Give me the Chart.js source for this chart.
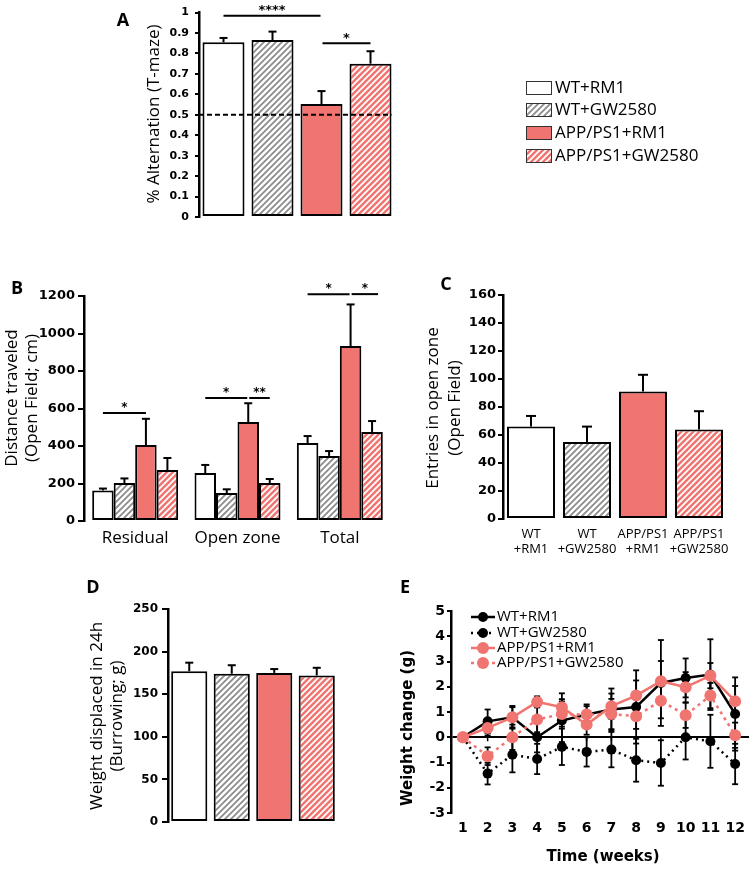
<!DOCTYPE html>
<html>
<head>
<meta charset="utf-8">
<script src="https://cdn.jsdelivr.net/npm/chart.js@4.4.1/dist/chart.umd.min.js"></script>
<style>
  body { margin: 0; background: #fff; width: 755px; height: 869px; overflow: hidden; position: relative; }
  .layer { position: absolute; left: 0; top: 0; width: 755px; height: 869px; }
</style>
</head>
<body>
<div class="layer"><canvas id="chartA"></canvas></div>
<div class="layer"><canvas id="chartB"></canvas></div>
<div class="layer"><canvas id="chartC"></canvas></div>
<div class="layer"><canvas id="chartD"></canvas></div>
<div class="layer"><canvas id="chartE"></canvas></div>
<script>
// ---- data ----
const groups = ['WT+RM1', 'WT+GW2580', 'APP/PS1+RM1', 'APP/PS1+GW2580'];

// A: T-maze alternation
const tmazeMean = [0.855, 0.866, 0.553, 0.75];
const tmazeSem  = [0.021, 0.041, 0.063, 0.061];
const tmazeChance = 0.5;

// B: distance travelled in the open field
const zones = ['Residual', 'Open zone', 'Total'];
const distWtRm1  = [163, 256, 416];
const distWtGw   = [203, 149, 347];
const distAppRm1 = [405, 528, 933];
const distAppGw  = [272, 203, 475];
const distWtRm1Sem  = [10, 43, 37];
const distWtGwSem   = [24, 20, 26];
const distAppRm1Sem = [140, 100, 222];
const distAppGwSem  = [64, 21, 58];

// C: entries in open zone
const entryLabels = [['WT', '+RM1'], ['WT', '+GW2580'], ['APP/PS1', '+RM1'], ['APP/PS1', '+GW2580']];
const entriesMean = [66, 55, 91, 64];
const entriesSem  = [7.6, 11, 12, 13];

// D: burrowing
const burrowMean = [177, 174, 175, 172];
const burrowSem  = [10, 10, 4.5, 9];

// E: weight change over 12 weeks
const weeks = [1, 2, 3, 4, 5, 6, 7, 8, 9, 10, 11, 12];
const wtRm1W  = [0, 0.63, 0.79, 0.0, 0.66, 0.9, 1.1, 1.2, 2.15, 2.35, 2.48, 0.92];
const wtGwW   = [0, -1.44, -0.69, -0.86, -0.38, -0.58, -0.49, -0.91, -1.02, 0.0, -0.16, -1.06];
const appRm1W = [0, 0.37, 0.79, 1.4, 1.19, 0.5, 1.23, 1.65, 2.22, 1.98, 2.44, 1.43];
const appGwW  = [0, -0.75, 0.0, 0.7, 0.92, 0.9, 0.92, 0.83, 1.45, 0.87, 1.65, 0.08];
const wtRm1WSem  = [0, 0.47, 0.45, 0.6, 0.85, 0.33, 0.83, 1.45, 1.7, 0.77, 1.4, 1.45];
const wtGwWSem   = [0, 0.43, 0.7, 0.6, 0.72, 0.58, 0.7, 0.85, 0.9, 0.88, 1.05, 0.8];
const appRm1WSem = [0, 0.3, 0.4, 0.22, 0.55, 0.4, 0.5, 0.6, 0.8, 0.6, 0.5, 0.6];
const appGwWSem  = [0, 0.35, 0.5, 0.5, 0.5, 0.4, 0.6, 0.5, 0.7, 0.5, 0.5, 0.5];

// ---- styles ----
const SALMON = '#f07470';
const TEXT_FONT = '"Open Sans", sans-serif';
const TICK_FONT = '"DejaVu Sans", sans-serif';

function hatch(bg, fg) {
  const s = 6, c = document.createElement('canvas');
  c.width = c.height = s;
  const g = c.getContext('2d');
  g.fillStyle = bg; g.fillRect(0, 0, s, s);
  g.strokeStyle = fg; g.lineWidth = 1.8;
  g.beginPath();
  g.moveTo(0, s); g.lineTo(s, 0);
  g.moveTo(-1, 1); g.lineTo(1, -1);
  g.moveTo(s - 1, s + 1); g.lineTo(s + 1, s - 1);
  g.stroke();
  return g.createPattern(c, 'repeat');
}
const fills = ['#ffffff', hatch('#ffffff', '#8c8c8c'), SALMON, hatch(SALMON, '#ffffff')];

function txt(ctx, s, x, y, font, o = {}) {
  ctx.save();
  ctx.font = font;
  ctx.fillStyle = o.color || '#000';
  ctx.textAlign = o.align || 'center';
  ctx.textBaseline = o.base || 'middle';
  ctx.translate(x, y);
  if (o.rot) ctx.rotate(o.rot);
  ctx.fillText(s, 0, 0);
  ctx.restore();
}
function line(ctx, x1, y1, x2, y2, w, dash) {
  ctx.save();
  ctx.strokeStyle = '#000'; ctx.lineWidth = w || 2;
  if (dash) ctx.setLineDash(dash);
  ctx.beginPath(); ctx.moveTo(x1, y1); ctx.lineTo(x2, y2); ctx.stroke();
  ctx.restore();
}

// page-level frame: chart area (L,T,R,B), y-axis box width, x-axis box height
function frame(L, T, R, B, yW, xH) {
  return { padding: { left: L - yW, top: T, right: 755 - R, bottom: 869 - B - xH } };
}
function yAxis(min, max, step, W, size, tickLen, pad, extra) {
  return Object.assign({
    min, max,
    ticks: { stepSize: step, color: '#000', padding: pad, font: { family: TICK_FONT, weight: 'bold', size },
             callback: v => String(Math.round(v * 100) / 100) },
    grid: { drawOnChartArea: false, tickLength: tickLen, color: '#000', tickColor: '#000', lineWidth: 2 },
    border: { color: '#000', width: 2.5 },
    afterFit: s => { s.width = W; }
  }, extra || {});
}
function xCat(H, ticks) {
  return {
    grid: { display: false, drawTicks: false },
    border: { display: false },
    ticks: Object.assign({ display: false, color: '#000', autoSkip: false, maxRotation: 0, minRotation: 0 }, ticks || {}),
    afterFit: s => { s.height = H; }
  };
}
const common = { responsive: true, maintainAspectRatio: false, animation: false,
                 plugins: { legend: { display: false }, tooltip: { enabled: false } } };

// error bars on top of bars (upper only)
function barErrors(chart, sems, cap) {
  const ctx = chart.ctx, y = chart.scales.y;
  sems.forEach((arr, di) => {
    chart.getDatasetMeta(di).data.forEach((el, i) => {
      const top = y.getPixelForValue(chart.data.datasets[di].data[i] + arr[i]);
      line(ctx, el.x, el.y, el.x, top, 2);
      line(ctx, el.x - cap, top, el.x + cap, top, 2);
    });
  });
}
function sigLine(ctx, x1, x2, yPix, label, size) {
  line(ctx, x1, yPix, x2, yPix, 2);
  txt(ctx, label, (x1 + x2) / 2, yPix - 5, 'bold ' + size + 'px ' + TICK_FONT);
}

// ---- A ----
new Chart(document.getElementById('chartA'), {
  type: 'bar',
  data: { labels: groups, datasets: [{ data: tmazeMean, backgroundColor: fills, borderColor: '#000',
          borderWidth: 2, borderSkipped: false, barPercentage: 0.857, categoryPercentage: 1 }] },
  options: Object.assign({}, common, {
    layout: frame(199, 10, 395, 217, 60, 0),
    scales: { x: xCat(0), y: yAxis(0, 1, 0.1, 60, 11, 4, 6) }
  }),
  plugins: [{
    id: 'annA',
    afterDatasetsDraw(chart) {
      const ctx = chart.ctx, y = chart.scales.y, a = chart.chartArea;
      const bars = chart.getDatasetMeta(0).data;
      line(ctx, a.left, y.getPixelForValue(tmazeChance), bars[3].x + 21, y.getPixelForValue(tmazeChance), 2, [5, 3]);
      barErrors(chart, [tmazeSem], 4);
      sigLine(ctx, bars[0].x, bars[2].x - 1, y.getPixelForValue(0.985), '****', 13);
      sigLine(ctx, bars[2].x + 1, bars[3].x, y.getPixelForValue(0.85), '*', 13);
      txt(ctx, 'A', 123, 21, 'bold 18px ' + TEXT_FONT);
      txt(ctx, '% Alternation (T-maze)', 154, 114, '17px ' + TEXT_FONT, { rot: -Math.PI / 2 });
      // legend
      const rows = [88, 110, 133, 156];
      groups.forEach((g, i) => {
        ctx.save();
        ctx.fillStyle = fills[i]; ctx.fillRect(526, rows[i] - 7, 26, 14);
        ctx.strokeStyle = '#333'; ctx.lineWidth = 1; ctx.strokeRect(526.5, rows[i] - 6.5, 25, 13);
        ctx.restore();
        txt(ctx, g, 555, rows[i], '17px ' + TEXT_FONT, { align: 'left' });
      });
    }
  }]
});

// ---- B ----
const distSeries = [distWtRm1, distWtGw, distAppRm1, distAppGw];
new Chart(document.getElementById('chartB'), {
  type: 'bar',
  data: { labels: zones, datasets: distSeries.map((d, i) => ({
    label: groups[i], data: d, backgroundColor: fills[i], borderColor: '#000', borderWidth: 2,
    borderSkipped: false, barPercentage: 1, categoryPercentage: 0.84 })) },
  options: Object.assign({}, common, {
    layout: frame(84, 296, 391, 521, 80, 40),
    scales: {
      x: xCat(40, { display: true, padding: 7, font: { family: TEXT_FONT, size: 17 } }),
      y: yAxis(0, 1200, 200, 80, 13, 6, 3)
    }
  }),
  plugins: [{
    id: 'annB',
    afterDatasetsDraw(chart) {
      const ctx = chart.ctx, y = chart.scales.y;
      barErrors(chart, [distWtRm1Sem, distWtGwSem, distAppRm1Sem, distAppGwSem], 4);
      const bx = (d, c) => chart.getDatasetMeta(d).data[c].x;
      sigLine(ctx, bx(0, 0), bx(2, 0), y.getPixelForValue(576), '*', 12);
      sigLine(ctx, bx(0, 1), bx(2, 1) - 1, y.getPixelForValue(656), '*', 12);
      sigLine(ctx, bx(2, 1) + 1, bx(3, 1), y.getPixelForValue(656), '**', 12);
      sigLine(ctx, bx(0, 2), bx(2, 2) - 1, y.getPixelForValue(1210), '*', 12);
      sigLine(ctx, bx(2, 2) + 1, bx(3, 2) + 6, y.getPixelForValue(1210), '*', 12);
      txt(ctx, 'B', 17, 289, 'bold 18px ' + TEXT_FONT);
      txt(ctx, 'Distance traveled', 12, 398, '17px ' + TEXT_FONT, { rot: -Math.PI / 2 });
      txt(ctx, '(Open Field; cm)', 32, 398, '17px ' + TEXT_FONT, { rot: -Math.PI / 2 });
    }
  }]
});

// ---- C ----
new Chart(document.getElementById('chartC'), {
  type: 'bar',
  data: { labels: entryLabels, datasets: [{ data: entriesMean, backgroundColor: fills, borderColor: '#000',
          borderWidth: 2, borderSkipped: false, barPercentage: 0.857, categoryPercentage: 1 }] },
  options: Object.assign({}, common, {
    layout: frame(503, 295, 727, 519, 60, 45),
    scales: {
      x: xCat(45, { display: true, padding: 8, font: { family: TEXT_FONT, size: 13, lineHeight: 1.15 } }),
      y: yAxis(0, 160, 20, 60, 13, 5, 2)
    }
  }),
  plugins: [{
    id: 'annC',
    afterDatasetsDraw(chart) {
      const ctx = chart.ctx;
      barErrors(chart, [entriesSem], 5);
      txt(ctx, 'C', 446, 285, 'bold 18px ' + TEXT_FONT);
      txt(ctx, 'Entries in open zone', 433, 408, '17px ' + TEXT_FONT, { rot: -Math.PI / 2 });
      txt(ctx, '(Open Field)', 455, 408, '17px ' + TEXT_FONT, { rot: -Math.PI / 2 });
    }
  }]
});

// ---- D ----
new Chart(document.getElementById('chartD'), {
  type: 'bar',
  data: { labels: groups, datasets: [{ data: burrowMean, backgroundColor: fills, borderColor: '#000',
          borderWidth: 2, borderSkipped: false, barPercentage: 0.85, categoryPercentage: 1 }] },
  options: Object.assign({}, common, {
    layout: frame(168, 609, 338, 822, 60, 0),
    scales: { x: xCat(0), y: yAxis(0, 250, 50, 60, 12, 6, 4) }
  }),
  plugins: [{
    id: 'annD',
    afterDatasetsDraw(chart) {
      const ctx = chart.ctx;
      barErrors(chart, [burrowSem], 4);
      txt(ctx, 'D', 93, 588, 'bold 18px ' + TEXT_FONT);
      txt(ctx, 'Weight displaced in 24h', 97, 716, '17px ' + TEXT_FONT, { rot: -Math.PI / 2 });
      txt(ctx, '(Burrowing; g)', 117, 716, '17px ' + TEXT_FONT, { rot: -Math.PI / 2 });
    }
  }]
});

// ---- E ----
const weightSeries = [
  { label: 'WT+RM1', data: wtRm1W, sem: wtRm1WSem, color: '#000', dash: [], r: 5, order: 2 },
  { label: 'WT+GW2580', data: wtGwW, sem: wtGwWSem, color: '#000', dash: [2, 4], r: 5, order: 3 },
  { label: 'APP/PS1+RM1', data: appRm1W, sem: appRm1WSem, color: SALMON, dash: [], r: 6, order: 0 },
  { label: 'APP/PS1+GW2580', data: appGwW, sem: appGwWSem, color: SALMON, dash: [3, 4], r: 6, order: 1 }
];
new Chart(document.getElementById('chartE'), {
  type: 'line',
  data: { datasets: weightSeries.map(s => ({
    label: s.label, data: weeks.map((w, i) => ({ x: w, y: s.data[i] })),
    borderColor: s.color, backgroundColor: s.color, borderWidth: 2.5, borderDash: s.dash,
    pointRadius: s.r, pointBackgroundColor: s.color, pointBorderColor: s.color, pointBorderWidth: 0,
    tension: 0, order: s.order })) },
  options: Object.assign({}, common, {
    layout: frame(451, 611, 752, 813, 53, 54),
    scales: {
      x: { type: 'linear', min: 0.52, max: 12.56,
           afterBuildTicks: s => { s.ticks = weeks.map(v => ({ value: v })); },
           grid: { display: false, drawTicks: false }, border: { display: false },
           ticks: { color: '#000', padding: 7, font: { family: TICK_FONT, weight: 'bold', size: 14 } },
           afterFit: s => { s.height = 54; } },
      y: yAxis(-3, 5, 1, 53, 14, 4, 2, {
           grid: { drawOnChartArea: true, tickLength: 4, lineWidth: 2, tickColor: '#000',
                   color: c => (c.tick && c.tick.value === 0) ? '#000' : 'rgba(0,0,0,0)' } })
    }
  }),
  plugins: [{
    id: 'annE',
    beforeDatasetsDraw(chart) {
      const ctx = chart.ctx, x = chart.scales.x, y = chart.scales.y;
      const y0 = y.getPixelForValue(0);
      weeks.forEach(w => line(ctx, x.getPixelForValue(w), y0, x.getPixelForValue(w), y0 + 4, 1.5));
      weightSeries.forEach(s => {
        weeks.forEach((w, i) => {
          if (!s.sem[i]) return;
          const px = x.getPixelForValue(w);
          const hi = y.getPixelForValue(s.data[i] + s.sem[i]), lo = y.getPixelForValue(s.data[i] - s.sem[i]);
          line(ctx, px, lo, px, hi, 1.8);
          line(ctx, px - 3, hi, px + 3, hi, 1.8);
          line(ctx, px - 3, lo, px + 3, lo, 1.8);
        });
      });
    },
    afterDraw(chart) {
      const ctx = chart.ctx;
      txt(ctx, 'E', 405, 588, 'bold 18px ' + TEXT_FONT);
      txt(ctx, 'Weight change (g)', 408, 728, 'bold 15px ' + TICK_FONT, { rot: -Math.PI / 2 });
      txt(ctx, 'Time (weeks)', 603, 857, 'bold 15px ' + TICK_FONT);
      const rows = [617, 633, 648, 663];
      weightSeries.forEach((s, i) => {
        ctx.save();
        ctx.strokeStyle = s.color; ctx.lineWidth = 2.5; ctx.setLineDash(s.dash);
        ctx.beginPath(); ctx.moveTo(471, rows[i]); ctx.lineTo(495, rows[i]); ctx.stroke();
        ctx.setLineDash([]); ctx.fillStyle = s.color;
        ctx.beginPath(); ctx.arc(483, rows[i], s.r, 0, Math.PI * 2); ctx.fill();
        ctx.restore();
        txt(ctx, s.label, 497, rows[i], '15px ' + TEXT_FONT, { align: 'left' });
      });
    }
  }]
});
</script>
</body>
</html>
